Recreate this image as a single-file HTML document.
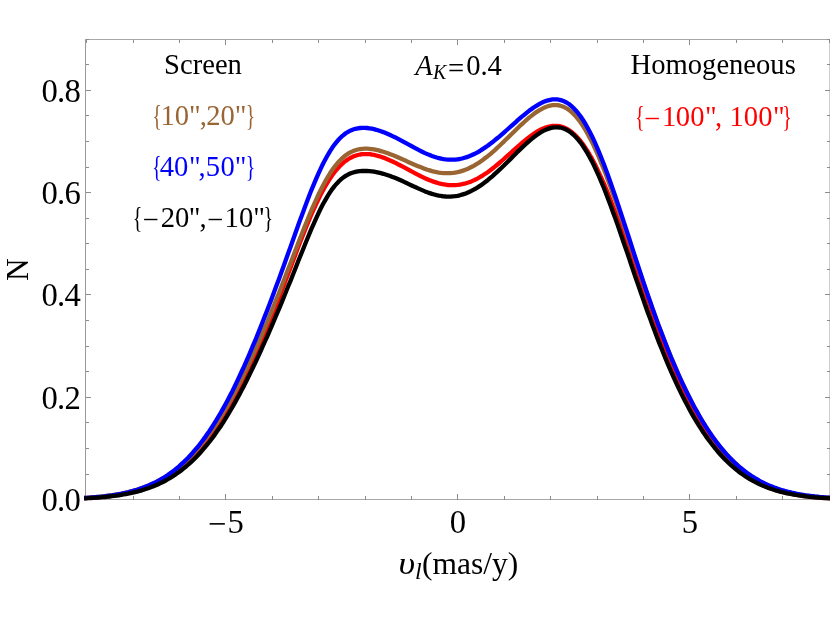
<!DOCTYPE html>
<html><head><meta charset="utf-8"><title>plot</title>
<style>
html,body{margin:0;padding:0;background:#fff;}
body{width:830px;height:623px;overflow:hidden;}
svg{display:block;will-change:transform;}
text{font-family:"Liberation Serif",serif;}
.tk{font-size:33.2px;fill:#000;}
.yl{font-size:32px;letter-spacing:-0.4px;}
.lb{font-size:28.6px;}
</style></head><body>
<svg width="830" height="623" viewBox="0 0 830 623">
<g stroke-width="1" fill="none"><path d="M85.5 39 V500 M830 39 V500" stroke="#9a9a9a"/><path d="M85 39.5 H830 M85 499.5 H830" stroke="#a8a8a8"/></g>
<g stroke="#8c8c8c" stroke-width="1" shape-rendering="crispEdges">
<line x1="86.50" y1="499.50" x2="86.50" y2="496.10"/>
<line x1="86.50" y1="39.50" x2="86.50" y2="42.90"/>
<line x1="133.50" y1="499.50" x2="133.50" y2="496.10"/>
<line x1="133.50" y1="39.50" x2="133.50" y2="42.90"/>
<line x1="179.50" y1="499.50" x2="179.50" y2="496.10"/>
<line x1="179.50" y1="39.50" x2="179.50" y2="42.90"/>
<line x1="225.50" y1="499.50" x2="225.50" y2="494.00"/>
<line x1="225.50" y1="39.50" x2="225.50" y2="45.00"/>
<line x1="272.50" y1="499.50" x2="272.50" y2="496.10"/>
<line x1="272.50" y1="39.50" x2="272.50" y2="42.90"/>
<line x1="318.50" y1="499.50" x2="318.50" y2="496.10"/>
<line x1="318.50" y1="39.50" x2="318.50" y2="42.90"/>
<line x1="365.50" y1="499.50" x2="365.50" y2="496.10"/>
<line x1="365.50" y1="39.50" x2="365.50" y2="42.90"/>
<line x1="411.50" y1="499.50" x2="411.50" y2="496.10"/>
<line x1="411.50" y1="39.50" x2="411.50" y2="42.90"/>
<line x1="457.50" y1="499.50" x2="457.50" y2="494.00"/>
<line x1="457.50" y1="39.50" x2="457.50" y2="45.00"/>
<line x1="504.50" y1="499.50" x2="504.50" y2="496.10"/>
<line x1="504.50" y1="39.50" x2="504.50" y2="42.90"/>
<line x1="550.50" y1="499.50" x2="550.50" y2="496.10"/>
<line x1="550.50" y1="39.50" x2="550.50" y2="42.90"/>
<line x1="597.50" y1="499.50" x2="597.50" y2="496.10"/>
<line x1="597.50" y1="39.50" x2="597.50" y2="42.90"/>
<line x1="643.50" y1="499.50" x2="643.50" y2="496.10"/>
<line x1="643.50" y1="39.50" x2="643.50" y2="42.90"/>
<line x1="689.50" y1="499.50" x2="689.50" y2="494.00"/>
<line x1="689.50" y1="39.50" x2="689.50" y2="45.00"/>
<line x1="736.50" y1="499.50" x2="736.50" y2="496.10"/>
<line x1="736.50" y1="39.50" x2="736.50" y2="42.90"/>
<line x1="782.50" y1="499.50" x2="782.50" y2="496.10"/>
<line x1="782.50" y1="39.50" x2="782.50" y2="42.90"/>
<line x1="829.50" y1="499.50" x2="829.50" y2="496.10"/>
<line x1="829.50" y1="39.50" x2="829.50" y2="42.90"/>
<line x1="85.50" y1="499.50" x2="91.00" y2="499.50"/>
<line x1="830.00" y1="499.50" x2="824.50" y2="499.50"/>
<line x1="85.50" y1="474.50" x2="88.90" y2="474.50"/>
<line x1="830.00" y1="474.50" x2="826.60" y2="474.50"/>
<line x1="85.50" y1="448.50" x2="88.90" y2="448.50"/>
<line x1="830.00" y1="448.50" x2="826.60" y2="448.50"/>
<line x1="85.50" y1="422.50" x2="88.90" y2="422.50"/>
<line x1="830.00" y1="422.50" x2="826.60" y2="422.50"/>
<line x1="85.50" y1="397.50" x2="91.00" y2="397.50"/>
<line x1="830.00" y1="397.50" x2="824.50" y2="397.50"/>
<line x1="85.50" y1="371.50" x2="88.90" y2="371.50"/>
<line x1="830.00" y1="371.50" x2="826.60" y2="371.50"/>
<line x1="85.50" y1="346.50" x2="88.90" y2="346.50"/>
<line x1="830.00" y1="346.50" x2="826.60" y2="346.50"/>
<line x1="85.50" y1="320.50" x2="88.90" y2="320.50"/>
<line x1="830.00" y1="320.50" x2="826.60" y2="320.50"/>
<line x1="85.50" y1="294.50" x2="91.00" y2="294.50"/>
<line x1="830.00" y1="294.50" x2="824.50" y2="294.50"/>
<line x1="85.50" y1="269.50" x2="88.90" y2="269.50"/>
<line x1="830.00" y1="269.50" x2="826.60" y2="269.50"/>
<line x1="85.50" y1="243.50" x2="88.90" y2="243.50"/>
<line x1="830.00" y1="243.50" x2="826.60" y2="243.50"/>
<line x1="85.50" y1="218.50" x2="88.90" y2="218.50"/>
<line x1="830.00" y1="218.50" x2="826.60" y2="218.50"/>
<line x1="85.50" y1="192.50" x2="91.00" y2="192.50"/>
<line x1="830.00" y1="192.50" x2="824.50" y2="192.50"/>
<line x1="85.50" y1="167.50" x2="88.90" y2="167.50"/>
<line x1="830.00" y1="167.50" x2="826.60" y2="167.50"/>
<line x1="85.50" y1="141.50" x2="88.90" y2="141.50"/>
<line x1="830.00" y1="141.50" x2="826.60" y2="141.50"/>
<line x1="85.50" y1="115.50" x2="88.90" y2="115.50"/>
<line x1="830.00" y1="115.50" x2="826.60" y2="115.50"/>
<line x1="85.50" y1="90.50" x2="91.00" y2="90.50"/>
<line x1="830.00" y1="90.50" x2="824.50" y2="90.50"/>
<line x1="85.50" y1="64.50" x2="88.90" y2="64.50"/>
<line x1="830.00" y1="64.50" x2="826.60" y2="64.50"/>
<line x1="85.50" y1="39.50" x2="88.90" y2="39.50"/>
<line x1="830.00" y1="39.50" x2="826.60" y2="39.50"/>
</g>
<g fill="none" stroke-width="4.3" stroke-linejoin="round" stroke-linecap="square">
<path d="M86.3 498.1 L88.6 497.9 L90.9 497.8 L93.3 497.6 L95.6 497.4 L97.9 497.3 L100.2 497.1 L102.5 496.8 L104.9 496.6 L107.2 496.3 L109.5 496.1 L111.8 495.8 L114.1 495.5 L116.5 495.1 L118.8 494.7 L121.1 494.4 L123.4 493.9 L125.7 493.5 L128.1 493.0 L130.4 492.5 L132.7 491.9 L135.0 491.3 L137.3 490.7 L139.7 490.0 L142.0 489.3 L144.3 488.6 L146.6 487.7 L148.9 486.9 L151.3 486.0 L153.6 485.0 L155.9 484.0 L158.2 482.9 L160.5 481.8 L162.9 480.6 L165.2 479.3 L167.5 477.9 L169.8 476.5 L172.1 475.0 L174.5 473.5 L176.8 471.8 L179.1 470.1 L181.4 468.3 L183.7 466.4 L186.1 464.4 L188.4 462.3 L190.7 460.1 L193.0 457.9 L195.3 455.5 L197.7 453.0 L200.0 450.5 L202.3 447.8 L204.6 445.0 L206.9 442.1 L209.3 439.1 L211.6 436.0 L213.9 432.8 L216.2 429.5 L218.5 426.1 L220.9 422.5 L223.2 418.9 L225.5 415.1 L227.8 411.2 L230.1 407.2 L232.5 403.1 L234.8 398.9 L237.1 394.6 L239.4 390.1 L241.7 385.6 L244.1 380.9 L246.4 376.1 L248.7 371.2 L251.0 366.2 L253.3 361.1 L255.7 355.9 L258.0 350.6 L260.3 345.1 L262.6 339.6 L264.9 334.0 L267.3 328.3 L269.6 322.5 L271.9 316.6 L274.2 310.7 L276.5 304.7 L278.9 298.6 L281.2 292.5 L283.5 286.3 L285.8 280.1 L288.1 273.9 L290.5 267.7 L292.8 261.5 L295.1 255.4 L297.4 249.3 L299.7 243.2 L302.1 237.3 L304.4 231.4 L306.7 225.7 L309.0 220.1 L311.3 214.7 L313.7 209.4 L316.0 204.4 L318.3 199.5 L320.6 194.9 L322.9 190.5 L325.3 186.3 L327.6 182.4 L329.9 178.7 L332.2 175.3 L334.5 172.2 L336.9 169.4 L339.2 166.8 L341.5 164.5 L343.8 162.4 L346.1 160.6 L348.5 159.0 L350.8 157.7 L353.1 156.6 L355.4 155.7 L357.7 155.0 L360.1 154.5 L362.4 154.2 L364.7 154.1 L367.0 154.1 L369.3 154.2 L371.7 154.5 L374.0 154.9 L376.3 155.5 L378.6 156.1 L380.9 156.8 L383.3 157.6 L385.6 158.5 L387.9 159.5 L390.2 160.5 L392.5 161.5 L394.9 162.7 L397.2 163.8 L399.5 165.0 L401.8 166.2 L404.1 167.4 L406.5 168.7 L408.8 169.9 L411.1 171.2 L413.4 172.4 L415.7 173.6 L418.1 174.8 L420.4 176.0 L422.7 177.1 L425.0 178.2 L427.3 179.2 L429.7 180.2 L432.0 181.1 L434.3 181.9 L436.6 182.6 L438.9 183.3 L441.3 183.9 L443.6 184.3 L445.9 184.7 L448.2 185.0 L450.5 185.1 L452.9 185.2 L455.2 185.1 L457.5 184.9 L459.8 184.6 L462.1 184.2 L464.5 183.7 L466.8 183.0 L469.1 182.3 L471.4 181.4 L473.7 180.4 L476.1 179.3 L478.4 178.0 L480.7 176.7 L483.0 175.3 L485.3 173.8 L487.7 172.2 L490.0 170.5 L492.3 168.7 L494.6 166.9 L496.9 165.0 L499.3 163.0 L501.6 161.0 L503.9 159.0 L506.2 156.9 L508.5 154.9 L510.9 152.8 L513.2 150.7 L515.5 148.6 L517.8 146.5 L520.1 144.5 L522.5 142.5 L524.8 140.6 L527.1 138.7 L529.4 136.9 L531.7 135.2 L534.1 133.6 L536.4 132.1 L538.7 130.7 L541.0 129.5 L543.3 128.4 L545.7 127.5 L548.0 126.8 L550.3 126.3 L552.6 125.9 L554.9 125.8 L557.3 125.9 L559.6 126.2 L561.9 126.8 L564.2 127.6 L566.5 128.7 L568.9 130.1 L571.2 131.7 L573.5 133.6 L575.8 135.8 L578.1 138.3 L580.5 141.0 L582.8 144.0 L585.1 147.4 L587.4 150.9 L589.7 154.8 L592.1 158.9 L594.4 163.3 L596.7 167.9 L599.0 172.8 L601.3 177.9 L603.7 183.2 L606.0 188.7 L608.3 194.4 L610.6 200.2 L612.9 206.2 L615.3 212.4 L617.6 218.7 L619.9 225.1 L622.2 231.6 L624.5 238.2 L626.9 244.8 L629.2 251.5 L631.5 258.2 L633.8 264.9 L636.1 271.6 L638.5 278.3 L640.8 285.0 L643.1 291.7 L645.4 298.3 L647.7 304.9 L650.1 311.4 L652.4 317.8 L654.7 324.1 L657.0 330.3 L659.3 336.5 L661.7 342.5 L664.0 348.4 L666.3 354.2 L668.6 359.9 L670.9 365.4 L673.3 370.9 L675.6 376.2 L677.9 381.3 L680.2 386.4 L682.5 391.3 L684.9 396.0 L687.2 400.7 L689.5 405.2 L691.8 409.5 L694.1 413.7 L696.5 417.8 L698.8 421.8 L701.1 425.6 L703.4 429.2 L705.7 432.8 L708.1 436.2 L710.4 439.5 L712.7 442.6 L715.0 445.7 L717.3 448.6 L719.7 451.4 L722.0 454.1 L724.3 456.6 L726.6 459.1 L728.9 461.4 L731.3 463.6 L733.6 465.8 L735.9 467.8 L738.2 469.7 L740.5 471.6 L742.9 473.3 L745.2 475.0 L747.5 476.5 L749.8 478.0 L752.1 479.4 L754.5 480.8 L756.8 482.0 L759.1 483.2 L761.4 484.3 L763.7 485.4 L766.1 486.4 L768.4 487.3 L770.7 488.2 L773.0 489.0 L775.3 489.8 L777.7 490.5 L780.0 491.1 L782.3 491.8 L784.6 492.4 L786.9 492.9 L789.3 493.4 L791.6 493.9 L793.9 494.3 L796.2 494.8 L798.5 495.1 L800.9 495.5 L803.2 495.8 L805.5 496.1 L807.8 496.4 L810.1 496.7 L812.5 496.9 L814.8 497.1 L817.1 497.3 L819.4 497.5 L821.7 497.7 L824.1 497.9 L826.4 498.0 L828.7 498.1" stroke="#ff0000"/>
<path d="M86.3 497.8 L88.6 497.6 L90.9 497.5 L93.3 497.3 L95.6 497.1 L97.9 496.9 L100.2 496.7 L102.5 496.4 L104.9 496.1 L107.2 495.8 L109.5 495.5 L111.8 495.2 L114.1 494.8 L116.5 494.5 L118.8 494.0 L121.1 493.6 L123.4 493.1 L125.7 492.6 L128.1 492.1 L130.4 491.5 L132.7 490.9 L135.0 490.2 L137.3 489.5 L139.7 488.8 L142.0 488.0 L144.3 487.1 L146.6 486.3 L148.9 485.3 L151.3 484.3 L153.6 483.2 L155.9 482.1 L158.2 480.9 L160.5 479.7 L162.9 478.4 L165.2 477.0 L167.5 475.5 L169.8 474.0 L172.1 472.4 L174.5 470.7 L176.8 468.9 L179.1 467.0 L181.4 465.1 L183.7 463.0 L186.1 460.9 L188.4 458.7 L190.7 456.3 L193.0 453.9 L195.3 451.4 L197.7 448.8 L200.0 446.0 L202.3 443.2 L204.6 440.3 L206.9 437.2 L209.3 434.1 L211.6 430.8 L213.9 427.4 L216.2 424.0 L218.5 420.4 L220.9 416.7 L223.2 412.9 L225.5 409.0 L227.8 404.9 L230.1 400.8 L232.5 396.6 L234.8 392.3 L237.1 387.8 L239.4 383.3 L241.7 378.7 L244.1 373.9 L246.4 369.1 L248.7 364.2 L251.0 359.2 L253.3 354.1 L255.7 348.9 L258.0 343.7 L260.3 338.3 L262.6 332.9 L264.9 327.4 L267.3 321.9 L269.6 316.3 L271.9 310.6 L274.2 304.8 L276.5 299.0 L278.9 293.2 L281.2 287.2 L283.5 281.3 L285.8 275.3 L288.1 269.3 L290.5 263.3 L292.8 257.2 L295.1 251.2 L297.4 245.2 L299.7 239.2 L302.1 233.3 L304.4 227.4 L306.7 221.7 L309.0 216.0 L311.3 210.5 L313.7 205.2 L316.0 200.0 L318.3 195.0 L320.6 190.2 L322.9 185.7 L325.3 181.4 L327.6 177.3 L329.9 173.5 L332.2 170.0 L334.5 166.8 L336.9 163.9 L339.2 161.2 L341.5 158.9 L343.8 156.8 L346.1 155.0 L348.5 153.4 L350.8 152.1 L353.1 151.1 L355.4 150.2 L357.7 149.5 L360.1 149.1 L362.4 148.8 L364.7 148.7 L367.0 148.7 L369.3 148.8 L371.7 149.1 L374.0 149.4 L376.3 149.9 L378.6 150.4 L380.9 151.1 L383.3 151.8 L385.6 152.5 L387.9 153.3 L390.2 154.2 L392.5 155.1 L394.9 156.0 L397.2 157.0 L399.5 158.0 L401.8 159.0 L404.1 160.1 L406.5 161.1 L408.8 162.2 L411.1 163.2 L413.4 164.2 L415.7 165.2 L418.1 166.2 L420.4 167.1 L422.7 168.0 L425.0 168.9 L427.3 169.7 L429.7 170.4 L432.0 171.1 L434.3 171.7 L436.6 172.2 L438.9 172.6 L441.3 172.9 L443.6 173.1 L445.9 173.2 L448.2 173.2 L450.5 173.1 L452.9 172.9 L455.2 172.6 L457.5 172.2 L459.8 171.6 L462.1 170.9 L464.5 170.1 L466.8 169.2 L469.1 168.2 L471.4 167.0 L473.7 165.8 L476.1 164.4 L478.4 163.0 L480.7 161.4 L483.0 159.8 L485.3 158.0 L487.7 156.2 L490.0 154.3 L492.3 152.3 L494.6 150.3 L496.9 148.2 L499.3 146.0 L501.6 143.8 L503.9 141.6 L506.2 139.3 L508.5 137.1 L510.9 134.8 L513.2 132.5 L515.5 130.2 L517.8 128.0 L520.1 125.8 L522.5 123.6 L524.8 121.5 L527.1 119.4 L529.4 117.4 L531.7 115.6 L534.1 113.8 L536.4 112.1 L538.7 110.6 L541.0 109.3 L543.3 108.1 L545.7 107.0 L548.0 106.2 L550.3 105.6 L552.6 105.2 L554.9 105.1 L557.3 105.2 L559.6 105.5 L561.9 106.2 L564.2 107.1 L566.5 108.3 L568.9 109.9 L571.2 111.7 L573.5 113.9 L575.8 116.3 L578.1 119.1 L580.5 122.2 L582.8 125.6 L585.1 129.3 L587.4 133.4 L589.7 137.7 L592.1 142.2 L594.4 147.1 L596.7 152.2 L599.0 157.5 L601.3 163.1 L603.7 168.9 L606.0 174.8 L608.3 181.0 L610.6 187.3 L612.9 193.7 L615.3 200.2 L617.6 206.9 L619.9 213.6 L622.2 220.4 L624.5 227.2 L626.9 234.1 L629.2 241.0 L631.5 247.9 L633.8 254.8 L636.1 261.7 L638.5 268.5 L640.8 275.3 L643.1 282.1 L645.4 288.8 L647.7 295.4 L650.1 302.0 L652.4 308.4 L654.7 314.8 L657.0 321.1 L659.3 327.3 L661.7 333.4 L664.0 339.4 L666.3 345.3 L668.6 351.1 L670.9 356.8 L673.3 362.3 L675.6 367.7 L677.9 373.0 L680.2 378.2 L682.5 383.3 L684.9 388.2 L687.2 393.0 L689.5 397.6 L691.8 402.2 L694.1 406.6 L696.5 410.8 L698.8 415.0 L701.1 419.0 L703.4 422.9 L705.7 426.6 L708.1 430.2 L710.4 433.7 L712.7 437.1 L715.0 440.3 L717.3 443.4 L719.7 446.4 L722.0 449.3 L724.3 452.1 L726.6 454.7 L728.9 457.2 L731.3 459.6 L733.6 461.9 L735.9 464.1 L738.2 466.2 L740.5 468.2 L742.9 470.2 L745.2 472.0 L747.5 473.7 L749.8 475.3 L752.1 476.9 L754.5 478.3 L756.8 479.7 L759.1 481.0 L761.4 482.3 L763.7 483.4 L766.1 484.5 L768.4 485.6 L770.7 486.5 L773.0 487.4 L775.3 488.3 L777.7 489.1 L780.0 489.9 L782.3 490.6 L784.6 491.2 L786.9 491.9 L789.3 492.4 L791.6 493.0 L793.9 493.5 L796.2 494.0 L798.5 494.4 L800.9 494.8 L803.2 495.2 L805.5 495.5 L807.8 495.8 L810.1 496.2 L812.5 496.4 L814.8 496.7 L817.1 496.9 L819.4 497.1 L821.7 497.3 L824.1 497.5 L826.4 497.7 L828.7 497.9" stroke="#996633"/>
<path d="M86.3 497.9 L88.6 497.8 L90.9 497.6 L93.3 497.4 L95.6 497.2 L97.9 497.0 L100.2 496.8 L102.5 496.6 L104.9 496.3 L107.2 496.0 L109.5 495.7 L111.8 495.4 L114.1 495.0 L116.5 494.6 L118.8 494.2 L121.1 493.8 L123.4 493.3 L125.7 492.8 L128.1 492.3 L130.4 491.7 L132.7 491.1 L135.0 490.4 L137.3 489.7 L139.7 488.9 L142.0 488.1 L144.3 487.3 L146.6 486.3 L148.9 485.4 L151.3 484.3 L153.6 483.2 L155.9 482.1 L158.2 480.9 L160.5 479.6 L162.9 478.2 L165.2 476.7 L167.5 475.2 L169.8 473.6 L172.1 471.9 L174.5 470.1 L176.8 468.3 L179.1 466.3 L181.4 464.2 L183.7 462.1 L186.1 459.8 L188.4 457.5 L190.7 455.0 L193.0 452.4 L195.3 449.7 L197.7 447.0 L200.0 444.0 L202.3 441.0 L204.6 437.9 L206.9 434.6 L209.3 431.2 L211.6 427.7 L213.9 424.1 L216.2 420.4 L218.5 416.5 L220.9 412.5 L223.2 408.4 L225.5 404.2 L227.8 399.9 L230.1 395.4 L232.5 390.9 L234.8 386.2 L237.1 381.4 L239.4 376.5 L241.7 371.5 L244.1 366.4 L246.4 361.1 L248.7 355.8 L251.0 350.4 L253.3 344.9 L255.7 339.3 L258.0 333.6 L260.3 327.9 L262.6 322.0 L264.9 316.1 L267.3 310.1 L269.6 304.1 L271.9 297.9 L274.2 291.7 L276.5 285.5 L278.9 279.2 L281.2 272.8 L283.5 266.4 L285.8 260.0 L288.1 253.5 L290.5 247.0 L292.8 240.5 L295.1 234.0 L297.4 227.5 L299.7 221.1 L302.1 214.7 L304.4 208.5 L306.7 202.3 L309.0 196.2 L311.3 190.3 L313.7 184.6 L316.0 179.1 L318.3 173.8 L320.6 168.8 L322.9 164.0 L325.3 159.5 L327.6 155.3 L329.9 151.4 L332.2 147.8 L334.5 144.6 L336.9 141.7 L339.2 139.0 L341.5 136.7 L343.8 134.8 L346.1 133.0 L348.5 131.6 L350.8 130.4 L353.1 129.5 L355.4 128.8 L357.7 128.3 L360.1 128.0 L362.4 127.8 L364.7 127.9 L367.0 128.0 L369.3 128.3 L371.7 128.7 L374.0 129.2 L376.3 129.8 L378.6 130.5 L380.9 131.3 L383.3 132.1 L385.6 133.0 L387.9 134.0 L390.2 135.0 L392.5 136.1 L394.9 137.2 L397.2 138.4 L399.5 139.6 L401.8 140.8 L404.1 142.1 L406.5 143.4 L408.8 144.6 L411.1 145.9 L413.4 147.2 L415.7 148.4 L418.1 149.6 L420.4 150.8 L422.7 152.0 L425.0 153.1 L427.3 154.1 L429.7 155.1 L432.0 156.0 L434.3 156.8 L436.6 157.5 L438.9 158.1 L441.3 158.7 L443.6 159.1 L445.9 159.4 L448.2 159.6 L450.5 159.7 L452.9 159.7 L455.2 159.6 L457.5 159.3 L459.8 159.0 L462.1 158.5 L464.5 157.8 L466.8 157.1 L469.1 156.3 L471.4 155.3 L473.7 154.2 L476.1 153.1 L478.4 151.8 L480.7 150.4 L483.0 148.9 L485.3 147.4 L487.7 145.8 L490.0 144.0 L492.3 142.3 L494.6 140.4 L496.9 138.5 L499.3 136.6 L501.6 134.6 L503.9 132.6 L506.2 130.5 L508.5 128.5 L510.9 126.4 L513.2 124.3 L515.5 122.3 L517.8 120.2 L520.1 118.2 L522.5 116.2 L524.8 114.3 L527.1 112.4 L529.4 110.6 L531.7 108.9 L534.1 107.3 L536.4 105.8 L538.7 104.4 L541.0 103.1 L543.3 102.0 L545.7 101.1 L548.0 100.3 L550.3 99.8 L552.6 99.4 L554.9 99.3 L557.3 99.4 L559.6 99.8 L561.9 100.4 L564.2 101.3 L566.5 102.5 L568.9 104.0 L571.2 105.9 L573.5 108.0 L575.8 110.4 L578.1 113.2 L580.5 116.3 L582.8 119.7 L585.1 123.4 L587.4 127.5 L589.7 131.8 L592.1 136.5 L594.4 141.4 L596.7 146.6 L599.0 152.1 L601.3 157.8 L603.7 163.7 L606.0 169.9 L608.3 176.2 L610.6 182.7 L612.9 189.4 L615.3 196.2 L617.6 203.1 L619.9 210.1 L622.2 217.1 L624.5 224.2 L626.9 231.4 L629.2 238.5 L631.5 245.7 L633.8 252.8 L636.1 260.0 L638.5 267.1 L640.8 274.1 L643.1 281.1 L645.4 288.0 L647.7 294.8 L650.1 301.5 L652.4 308.1 L654.7 314.6 L657.0 321.1 L659.3 327.4 L661.7 333.5 L664.0 339.6 L666.3 345.6 L668.6 351.4 L670.9 357.1 L673.3 362.6 L675.6 368.0 L677.9 373.3 L680.2 378.5 L682.5 383.5 L684.9 388.4 L687.2 393.2 L689.5 397.8 L691.8 402.3 L694.1 406.7 L696.5 410.9 L698.8 415.0 L701.1 419.0 L703.4 422.8 L705.7 426.5 L708.1 430.1 L710.4 433.6 L712.7 436.9 L715.0 440.1 L717.3 443.2 L719.7 446.1 L722.0 449.0 L724.3 451.7 L726.6 454.3 L728.9 456.8 L731.3 459.2 L733.6 461.5 L735.9 463.7 L738.2 465.8 L740.5 467.8 L742.9 469.7 L745.2 471.5 L747.5 473.2 L749.8 474.8 L752.1 476.4 L754.5 477.9 L756.8 479.2 L759.1 480.6 L761.4 481.8 L763.7 483.0 L766.1 484.1 L768.4 485.1 L770.7 486.1 L773.0 487.0 L775.3 487.9 L777.7 488.7 L780.0 489.5 L782.3 490.2 L784.6 490.9 L786.9 491.5 L789.3 492.1 L791.6 492.7 L793.9 493.2 L796.2 493.7 L798.5 494.1 L800.9 494.5 L803.2 494.9 L805.5 495.3 L807.8 495.6 L810.1 495.9 L812.5 496.2 L814.8 496.5 L817.1 496.7 L819.4 497.0 L821.7 497.2 L824.1 497.4 L826.4 497.6 L828.7 497.7" stroke="#0000ff"/>
<path d="M86.3 498.3 L88.6 498.2 L90.9 498.0 L93.3 497.9 L95.6 497.7 L97.9 497.6 L100.2 497.4 L102.5 497.2 L104.9 497.0 L107.2 496.7 L109.5 496.5 L111.8 496.2 L114.1 495.9 L116.5 495.6 L118.8 495.3 L121.1 494.9 L123.4 494.5 L125.7 494.1 L128.1 493.7 L130.4 493.2 L132.7 492.7 L135.0 492.1 L137.3 491.6 L139.7 490.9 L142.0 490.3 L144.3 489.5 L146.6 488.8 L148.9 488.0 L151.3 487.1 L153.6 486.2 L155.9 485.3 L158.2 484.2 L160.5 483.1 L162.9 482.0 L165.2 480.8 L167.5 479.5 L169.8 478.2 L172.1 476.7 L174.5 475.2 L176.8 473.6 L179.1 472.0 L181.4 470.2 L183.7 468.4 L186.1 466.5 L188.4 464.5 L190.7 462.4 L193.0 460.2 L195.3 457.9 L197.7 455.5 L200.0 453.0 L202.3 450.4 L204.6 447.7 L206.9 444.9 L209.3 442.0 L211.6 439.0 L213.9 435.9 L216.2 432.6 L218.5 429.3 L220.9 425.9 L223.2 422.3 L225.5 418.6 L227.8 414.9 L230.1 411.0 L232.5 407.0 L234.8 402.9 L237.1 398.7 L239.4 394.4 L241.7 390.0 L244.1 385.6 L246.4 381.0 L248.7 376.3 L251.0 371.6 L253.3 366.8 L255.7 361.9 L258.0 356.9 L260.3 351.8 L262.6 346.7 L264.9 341.5 L267.3 336.3 L269.6 331.0 L271.9 325.6 L274.2 320.2 L276.5 314.7 L278.9 309.2 L281.2 303.6 L283.5 297.9 L285.8 292.2 L288.1 286.5 L290.5 280.8 L292.8 275.0 L295.1 269.2 L297.4 263.3 L299.7 257.5 L302.1 251.7 L304.4 246.0 L306.7 240.3 L309.0 234.7 L311.3 229.2 L313.7 223.8 L316.0 218.6 L318.3 213.6 L320.6 208.8 L322.9 204.3 L325.3 200.1 L327.6 196.1 L329.9 192.4 L332.2 189.1 L334.5 186.1 L336.9 183.4 L339.2 181.0 L341.5 178.9 L343.8 177.1 L346.1 175.6 L348.5 174.3 L350.8 173.3 L353.1 172.5 L355.4 171.9 L357.7 171.4 L360.1 171.1 L362.4 171.0 L364.7 170.9 L367.0 171.0 L369.3 171.1 L371.7 171.4 L374.0 171.7 L376.3 172.1 L378.6 172.6 L380.9 173.2 L383.3 173.8 L385.6 174.5 L387.9 175.2 L390.2 176.0 L392.5 176.9 L394.9 177.8 L397.2 178.8 L399.5 179.8 L401.8 180.8 L404.1 181.9 L406.5 183.0 L408.8 184.1 L411.1 185.2 L413.4 186.3 L415.7 187.3 L418.1 188.4 L420.4 189.4 L422.7 190.4 L425.0 191.4 L427.3 192.3 L429.7 193.1 L432.0 193.9 L434.3 194.5 L436.6 195.1 L438.9 195.6 L441.3 196.0 L443.6 196.3 L445.9 196.5 L448.2 196.6 L450.5 196.6 L452.9 196.4 L455.2 196.2 L457.5 195.8 L459.8 195.3 L462.1 194.6 L464.5 193.9 L466.8 193.0 L469.1 192.0 L471.4 190.9 L473.7 189.7 L476.1 188.3 L478.4 186.9 L480.7 185.4 L483.0 183.7 L485.3 182.0 L487.7 180.2 L490.0 178.2 L492.3 176.3 L494.6 174.2 L496.9 172.1 L499.3 169.9 L501.6 167.7 L503.9 165.5 L506.2 163.2 L508.5 160.9 L510.9 158.6 L513.2 156.3 L515.5 153.9 L517.8 151.6 L520.1 149.4 L522.5 147.2 L524.8 145.0 L527.1 142.9 L529.4 140.8 L531.7 138.9 L534.1 137.0 L536.4 135.3 L538.7 133.7 L541.0 132.2 L543.3 130.9 L545.7 129.8 L548.0 128.9 L550.3 128.1 L552.6 127.6 L554.9 127.3 L557.3 127.3 L559.6 127.5 L561.9 128.0 L564.2 128.8 L566.5 129.8 L568.9 131.2 L571.2 132.8 L573.5 134.8 L575.8 137.1 L578.1 139.7 L580.5 142.6 L582.8 145.8 L585.1 149.3 L587.4 153.1 L589.7 157.2 L592.1 161.6 L594.4 166.3 L596.7 171.3 L599.0 176.5 L601.3 181.9 L603.7 187.5 L606.0 193.4 L608.3 199.4 L610.6 205.6 L612.9 211.9 L615.3 218.3 L617.6 224.9 L619.9 231.5 L622.2 238.3 L624.5 245.0 L626.9 251.8 L629.2 258.6 L631.5 265.5 L633.8 272.3 L636.1 279.1 L638.5 285.8 L640.8 292.5 L643.1 299.1 L645.4 305.7 L647.7 312.2 L650.1 318.6 L652.4 324.9 L654.7 331.1 L657.0 337.2 L659.3 343.1 L661.7 349.0 L664.0 354.8 L666.3 360.4 L668.6 365.9 L670.9 371.2 L673.3 376.5 L675.6 381.6 L677.9 386.5 L680.2 391.4 L682.5 396.1 L684.9 400.7 L687.2 405.1 L689.5 409.4 L691.8 413.6 L694.1 417.6 L696.5 421.5 L698.8 425.3 L701.1 428.9 L703.4 432.5 L705.7 435.9 L708.1 439.1 L710.4 442.3 L712.7 445.3 L715.0 448.2 L717.3 451.0 L719.7 453.7 L722.0 456.2 L724.3 458.7 L726.6 461.0 L728.9 463.2 L731.3 465.4 L733.6 467.4 L735.9 469.3 L738.2 471.2 L740.5 472.9 L742.9 474.6 L745.2 476.2 L747.5 477.7 L749.8 479.1 L752.1 480.4 L754.5 481.7 L756.8 482.9 L759.1 484.0 L761.4 485.1 L763.7 486.1 L766.1 487.0 L768.4 487.9 L770.7 488.8 L773.0 489.5 L775.3 490.3 L777.7 490.9 L780.0 491.6 L782.3 492.2 L784.6 492.7 L786.9 493.3 L789.3 493.7 L791.6 494.2 L793.9 494.6 L796.2 495.0 L798.5 495.4 L800.9 495.7 L803.2 496.0 L805.5 496.3 L807.8 496.6 L810.1 496.8 L812.5 497.1 L814.8 497.3 L817.1 497.5 L819.4 497.6 L821.7 497.8 L824.1 498.0 L826.4 498.1 L828.7 498.2" stroke="#000000"/>
</g>
<g class="tk">
<text transform="translate(80.0,510.8) scale(0.985,1)" text-anchor="end" letter-spacing="-0.8">0.0</text>
<text transform="translate(80.0,408.6) scale(0.985,1)" text-anchor="end" letter-spacing="-0.8">0.2</text>
<text transform="translate(80.0,306.4) scale(0.985,1)" text-anchor="end" letter-spacing="-0.8">0.4</text>
<text transform="translate(80.0,204.1) scale(0.985,1)" text-anchor="end" letter-spacing="-0.8">0.6</text>
<text transform="translate(80.0,101.9) scale(0.985,1)" text-anchor="end" letter-spacing="-0.8">0.8</text>
<text transform="translate(208.0,532.5) scale(0.985,1)"><tspan dy="2">−</tspan><tspan dy="-2" dx="1.2">5</tspan></text>
<text transform="translate(457.8,532.5) scale(0.985,1)" text-anchor="middle">0</text>
<text transform="translate(689.8,532.5) scale(0.985,1)" text-anchor="middle">5</text>
<text transform="translate(27.8,269.5) rotate(-90)" text-anchor="middle" font-size="31.5px">N</text>
<g font-size="31.5px"><text transform="translate(398.4,574.2) scale(1.15,1)" font-style="italic">υ</text>
<text x="414.9" y="579.4" font-style="italic" font-size="24px">l</text>
<text x="422" y="574.2">(mas/y)</text></g>
</g>
<g class="lb">
<text x="203" y="74.4" text-anchor="middle">Screen</text>
<g fill="#996633"><text transform="translate(152.20,125.30) scale(0.700,1)">{</text><text x="160.50" y="125.30" dx="0 0 0 -1 -0.7 0 0">10&quot;,20&quot;</text><text transform="translate(245.75,125.30) scale(0.700,1)">}</text></g>
<g fill="#0000ff"><text transform="translate(152.00,176.30) scale(0.700,1)">{</text><text x="159.80" y="176.30" dx="0 0 0.5 -2.0 0 0.4 0">40&quot;,50&quot;</text><text transform="translate(245.75,176.30) scale(0.700,1)">}</text></g>
<g fill="#000000"><text transform="translate(132.85,227.00) scale(0.700,1)">{</text><text x="142.50" y="227.00" dx="0 2.0 0 -0.5 -1.0 0.4 1.5 0 0"><tspan dy="2">−</tspan><tspan dy="-2">20&quot;,</tspan><tspan dy="2">−</tspan><tspan dy="-2">10&quot;</tspan></text><text transform="translate(263.45,227.00) scale(0.700,1)">}</text></g>
<g fill="#ff0000"><text transform="translate(634.90,125.80) scale(0.700,1)">{</text><text x="644.00" y="125.80" dx="0 1.8 -0.4 0 0.5 -1.6 0.5 -0.3 0 0.2 0.3"><tspan dy="2">−</tspan><tspan dy="-2">100&quot;, 100&quot;</tspan></text><text transform="translate(782.35,125.80) scale(0.700,1)">}</text></g>

<text x="713.2" y="74" text-anchor="middle">Homogeneous</text>
<text x="415.2" y="74.6"><tspan font-style="italic">A</tspan><tspan font-style="italic" font-size="20px" dy="4.5" dx="0.3">K</tspan><tspan dy="-1.5" dx="1.8">=</tspan><tspan dy="-3" dx="1.9">0.4</tspan></text>
</g>
</svg>
</body></html>
